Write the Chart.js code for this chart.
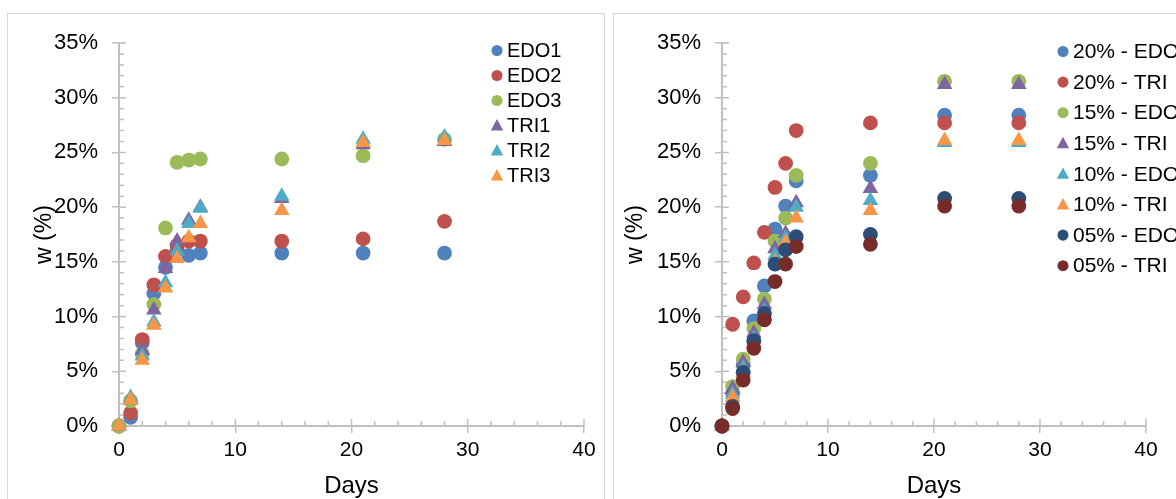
<!DOCTYPE html>
<html>
<head>
<meta charset="utf-8">
<script src="https://cdn.jsdelivr.net/npm/chart.js@4.4.1/dist/chart.umd.min.js"></script>
<style>
html, body { margin: 0; padding: 0; background: #fff; overflow: hidden; width: 1176px; height: 499px; }
.panel { position: absolute; top: 13px; width: 596px; height: 520px; border: 1px solid #d9d9d9; background: #fff; }
.panel canvas { position: absolute; left: 0; top: 0; }
</style>
</head>
<body>
<div class="panel" style="left:7px"><canvas id="chartLeft" width="596" height="487"></canvas></div>
<div class="panel" style="left:613px"><canvas id="chartRight" width="596" height="487"></canvas></div>
<script>
// days of measurement
var days = [0, 1, 2, 3, 4, 5, 6, 7, 14, 21, 28];

// left chart, w (%)
var leftLabels = ['EDO1', 'EDO2', 'EDO3', 'TRI1', 'TRI2', 'TRI3'];
var edo1 = [0, 0.8, 7.6, 12.1, 14.5, 16.1, 15.6, 15.8, 15.8, 15.8, 15.8];
var edo2 = [0, 1.2, 7.9, 12.9, 15.5, 16.5, 16.9, 16.9, 16.9, 17.1, 18.7];
var edo3 = [0, 2.3, 6.6, 11.1, 18.1, 24.1, 24.3, 24.4, 24.4, 24.7, 26.2];
var tri1 = [0, 2.4, 6.9, 10.6, 14.4, 16.9, 18.8, 20.0, 20.8, 25.7, 26.0];
var tri2 = [0, 2.6, 6.4, 9.5, 13.1, 16.0, 18.5, 19.9, 21.0, 26.2, 26.4];
var tri3 = [0, 2.4, 6.0, 9.2, 12.6, 15.3, 17.2, 18.5, 19.7, 25.9, 26.1];

// right chart, w (%)
var rightLabels = ['20% - EDO', '20% - TRI', '15% - EDO', '15% - TRI', '10% - EDO', '10% - TRI', '05% - EDO', '05% - TRI'];
var edo20 = [0, 3.0, 5.6, 9.6, 12.8, 18.0, 20.1, 22.4, 22.9, 28.4, 28.4];
var tri20 = [0, 9.3, 11.8, 14.9, 17.7, 21.8, 24.0, 27.0, 27.7, 27.7, 27.7];
var edo15 = [0, 3.6, 6.1, 8.9, 11.6, 16.9, 19.0, 22.9, 24.0, 31.5, 31.5];
var tri15 = [0, 3.4, 5.8, 8.5, 11.1, 16.2, 17.6, 20.4, 21.7, 31.2, 31.2];
var edo10 = [0, 2.9, 5.3, 8.0, 10.5, 15.6, 17.2, 20.0, 20.6, 25.9, 25.9];
var tri10 = [0, 2.6, 4.9, 7.6, 10.0, 15.0, 16.8, 19.0, 19.7, 26.1, 26.1];
var edo05 = [0, 1.8, 4.9, 7.8, 10.3, 14.8, 16.1, 17.3, 17.5, 20.8, 20.8];
var tri05 = [0, 1.6, 4.2, 7.1, 9.7, 13.2, 14.8, 16.4, 16.6, 20.1, 20.1];

var xTicks = [0, 10, 20, 30, 40];
var yTicks = [0, 5, 10, 15, 20, 25, 30, 35];

var axisColor = '#bfbfbf';
Chart.defaults.font.family = '"Liberation Sans", Arial, sans-serif';
Chart.defaults.color = '#000';

function points(vals) {
  return vals.map(function (v, i) { return { x: days[i], y: v }; });
}

function series(label, vals, color, style, idx) {
  return {
    label: label,
    data: points(vals),
    backgroundColor: color,
    borderColor: color,
    borderWidth: 0,
    pointStyle: style,
    pointRadius: style === 'triangle' ? 9 : 7.4,
    pointHoverRadius: style === 'triangle' ? 9 : 7.4,
    order: -idx,
    clip: false
  };
}

// minor and inner ticks like the spreadsheet axes
var innerTicks = {
  id: 'innerTicks',
  beforeDatasetsDraw: function (chart) {
    var ctx = chart.ctx, xs = chart.scales.x, ys = chart.scales.y, a = chart.chartArea;
    ctx.save();
    ctx.strokeStyle = axisColor;
    ctx.lineWidth = 1.5;
    ctx.beginPath();
    for (var d = 0; d <= 40; d += 2) {
      var px = xs.getPixelForValue(d);
      ctx.moveTo(px, a.bottom);
      ctx.lineTo(px, a.bottom - (d % 10 === 0 ? 7 : 5));
    }
    for (var v = 0; v <= 35; v += 1) {
      var py = ys.getPixelForValue(v);
      ctx.moveTo(a.left, py);
      ctx.lineTo(a.left + (v % 5 === 0 ? 7 : 5), py);
    }
    ctx.stroke();
    ctx.restore();
  }
};

// legend drawn inside the plot, top right
var panelLegend = {
  id: 'panelLegend',
  afterDraw: function (chart, args, opts) {
    var ctx = chart.ctx;
    ctx.save();
    ctx.font = opts.size + 'px "Liberation Sans", Arial, sans-serif';
    ctx.textBaseline = 'middle';
    ctx.textAlign = 'left';
    chart.data.datasets.forEach(function (ds, i) {
      var y = opts.y + i * opts.gap;
      var r = opts.marker;
      ctx.fillStyle = ds.backgroundColor;
      ctx.beginPath();
      if (ds.pointStyle === 'triangle') {
        ctx.moveTo(opts.x, y - r);
        ctx.lineTo(opts.x + r * 0.95, y + r * 0.75);
        ctx.lineTo(opts.x - r * 0.95, y + r * 0.75);
        ctx.closePath();
      } else {
        ctx.arc(opts.x, y, r * 0.85, 0, Math.PI * 2);
      }
      ctx.fill();
      ctx.fillStyle = '#000';
      ctx.fillText(ds.label, opts.textX, y + 1);
    });
    ctx.restore();
  }
};

function makeOptions(pad, yWidth, titlePad, legend) {
  return {
    responsive: false,
    animation: false,
    layout: { padding: pad },
    plugins: {
      legend: { display: false },
      tooltip: { enabled: false },
      panelLegend: legend
    },
    scales: {
      x: {
        type: 'linear',
        min: 0, max: 40,
        afterFit: function (s) { s.height = 75; },
        afterBuildTicks: function (s) { s.ticks = xTicks.map(function (v) { return { value: v }; }); },
        ticks: { font: { size: 21 }, padding: 5, maxRotation: 0 },
        grid: { drawOnChartArea: false, drawTicks: true, tickLength: 7, color: axisColor, lineWidth: 1.5 },
        border: { color: axisColor, width: 2 },
        title: { display: true, text: 'Days', font: { size: 24 }, padding: { top: 0, bottom: 0 } }
      },
      y: {
        type: 'linear',
        min: 0, max: 35,
        afterFit: function (s) { s.width = yWidth; },
        afterBuildTicks: function (s) { s.ticks = yTicks.map(function (v) { return { value: v }; }); },
        ticks: { font: { size: 22 }, padding: 14, callback: function (v) { return v + '%'; } },
        grid: { drawOnChartArea: false, drawTicks: true, tickLength: 7, color: axisColor, lineWidth: 1.5 },
        border: { color: axisColor, width: 2 },
        title: { display: true, text: 'w (%)', font: { size: 23 }, padding: { top: titlePad, bottom: 0 } }
      }
    }
  };
}

var leftColors = ['#4F81BD', '#C0504D', '#9BBB59', '#8064A2', '#4BACC6', '#F79646'];
var leftStyles = ['circle', 'circle', 'circle', 'triangle', 'triangle', 'triangle'];
var leftVals = [edo1, edo2, edo3, tri1, tri2, tri3];

new Chart(document.getElementById('chartLeft'), {
  type: 'scatter',
  data: {
    datasets: leftVals.map(function (vals, i) {
      return series(leftLabels[i], vals, leftColors[i], leftStyles[i], i);
    })
  },
  options: makeOptions({ top: 29, right: 20, left: 0, bottom: 0 }, 111, 23,
    { x: 489, textX: 499, y: 36.5, gap: 25, size: 20, marker: 6.5 }),
  plugins: [innerTicks, panelLegend]
});

var rightColors = ['#4F81BD', '#C0504D', '#9BBB59', '#8064A2', '#4BACC6', '#F79646', '#2C4D75', '#772C2A'];
var rightStyles = ['circle', 'circle', 'circle', 'triangle', 'triangle', 'triangle', 'circle', 'circle'];
var rightVals = [edo20, tri20, edo15, tri15, edo10, tri10, edo05, tri05];

new Chart(document.getElementById('chartRight'), {
  type: 'scatter',
  data: {
    datasets: rightVals.map(function (vals, i) {
      return series(rightLabels[i], vals, rightColors[i], rightStyles[i], i);
    })
  },
  options: makeOptions({ top: 29, right: 64, left: 0, bottom: 0 }, 108, 8,
    { x: 449, textX: 459, y: 37.5, gap: 30.6, size: 21, marker: 6.5 }),
  plugins: [innerTicks, panelLegend]
});
</script>
</body>
</html>
